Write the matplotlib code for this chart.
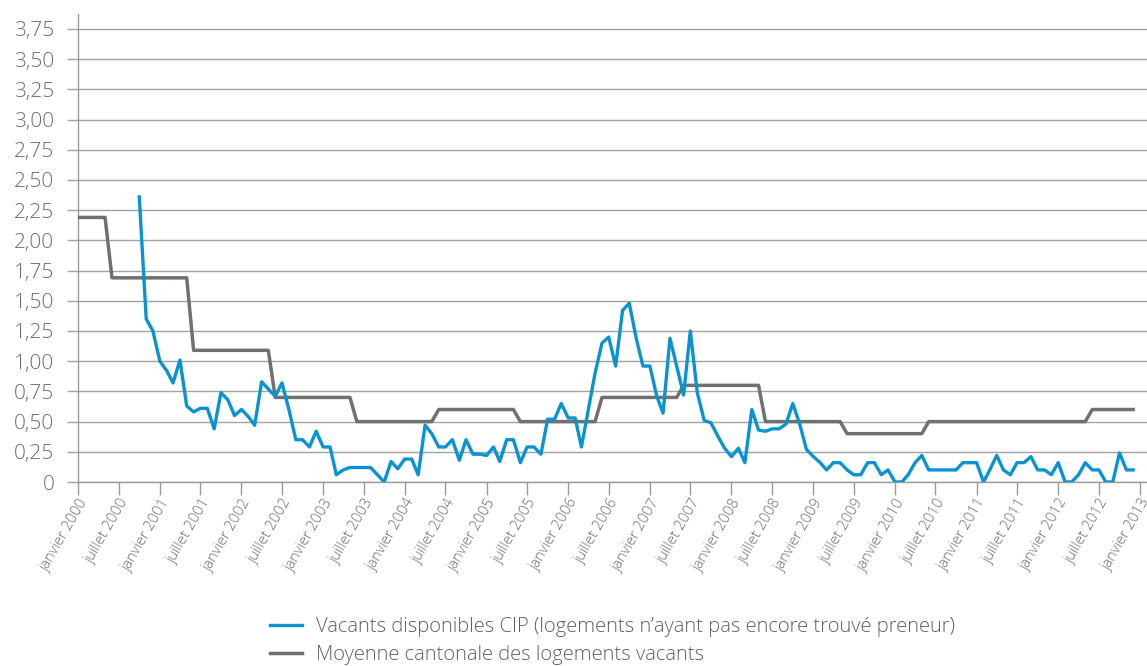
import pandas as pd
import matplotlib.pyplot as plt
import matplotlib.dates as mdates
from matplotlib.ticker import FuncFormatter, MultipleLocator

plt.rcParams['font.family'] = ['Open Sans', 'DejaVu Sans']

# moyenne cantonale (une valeur par mois, janvier 2000 - décembre 2012)
moyenne = [
    2.19, 2.19, 2.19, 2.19, 2.19, 1.69, 1.69, 1.69, 1.69, 1.69, 1.69, 1.69,  # 2000
    1.69, 1.69, 1.69, 1.69, 1.69, 1.09, 1.09, 1.09, 1.09, 1.09, 1.09, 1.09,  # 2001
    1.09, 1.09, 1.09, 1.09, 1.09, 0.70, 0.70, 0.70, 0.70, 0.70, 0.70, 0.70,  # 2002
    0.70, 0.70, 0.70, 0.70, 0.70, 0.50, 0.50, 0.50, 0.50, 0.50, 0.50, 0.50,  # 2003
    0.50, 0.50, 0.50, 0.50, 0.50, 0.60, 0.60, 0.60, 0.60, 0.60, 0.60, 0.60,  # 2004
    0.60, 0.60, 0.60, 0.60, 0.60, 0.50, 0.50, 0.50, 0.50, 0.50, 0.50, 0.50,  # 2005
    0.50, 0.50, 0.50, 0.50, 0.50, 0.70, 0.70, 0.70, 0.70, 0.70, 0.70, 0.70,  # 2006
    0.70, 0.70, 0.70, 0.70, 0.70, 0.80, 0.80, 0.80, 0.80, 0.80, 0.80, 0.80,  # 2007
    0.80, 0.80, 0.80, 0.80, 0.80, 0.50, 0.50, 0.50, 0.50, 0.50, 0.50, 0.50,  # 2008
    0.50, 0.50, 0.50, 0.50, 0.50, 0.40, 0.40, 0.40, 0.40, 0.40, 0.40, 0.40,  # 2009
    0.40, 0.40, 0.40, 0.40, 0.40, 0.50, 0.50, 0.50, 0.50, 0.50, 0.50, 0.50,  # 2010
    0.50, 0.50, 0.50, 0.50, 0.50, 0.50, 0.50, 0.50, 0.50, 0.50, 0.50, 0.50,  # 2011
    0.50, 0.50, 0.50, 0.50, 0.50, 0.60, 0.60, 0.60, 0.60, 0.60, 0.60, 0.60,  # 2012
]

# vacants CIP (octobre 2000 - décembre 2012)
vacants = [
    2.36, 1.35, 1.25,                                                          # 2000
    1.00, 0.92, 0.82, 1.01, 0.63, 0.58, 0.61, 0.61, 0.44, 0.74, 0.68, 0.55,    # 2001
    0.60, 0.54, 0.47, 0.83, 0.77, 0.71, 0.82, 0.60, 0.35, 0.35, 0.29, 0.42,    # 2002
    0.29, 0.29, 0.06, 0.10, 0.12, 0.12, 0.12, 0.12, 0.06, 0.00, 0.17, 0.11,    # 2003
    0.19, 0.19, 0.06, 0.47, 0.40, 0.29, 0.29, 0.35, 0.18, 0.35, 0.23, 0.23,    # 2004
    0.22, 0.29, 0.17, 0.35, 0.35, 0.16, 0.29, 0.29, 0.23, 0.52, 0.52, 0.65,    # 2005
    0.53, 0.53, 0.29, 0.60, 0.90, 1.15, 1.20, 0.96, 1.42, 1.48, 1.19, 0.96,    # 2006
    0.96, 0.71, 0.57, 1.19, 0.96, 0.72, 1.25, 0.74, 0.51, 0.49, 0.38, 0.28,    # 2007
    0.21, 0.28, 0.16, 0.60, 0.43, 0.42, 0.44, 0.44, 0.48, 0.65, 0.48, 0.27,    # 2008
    0.21, 0.16, 0.10, 0.16, 0.16, 0.10, 0.06, 0.06, 0.16, 0.16, 0.06, 0.10,    # 2009
    0.00, 0.00, 0.06, 0.16, 0.22, 0.10, 0.10, 0.10, 0.10, 0.10, 0.16, 0.16,    # 2010
    0.16, 0.00, 0.10, 0.22, 0.10, 0.06, 0.16, 0.16, 0.21, 0.10, 0.10, 0.06,    # 2011
    0.16, 0.00, 0.00, 0.06, 0.16, 0.10, 0.10, 0.00, 0.00, 0.24, 0.10, 0.10,    # 2012
]

mois_fr = {1: 'janvier', 7: 'juillet'}
lbl_vacants = 'Vacants disponibles CIP (logements n\u2019ayant pas encore trouvé preneur)'
lbl_moyenne = 'Moyenne cantonale des logements vacants'

dates_moy = pd.date_range('2000-01-01', periods=len(moyenne), freq='MS')
dates_vac = pd.date_range('2000-10-01', periods=len(vacants), freq='MS')

txt_col = '#6d6e70'
grid_col = '#a3a3a3'

fig = plt.figure(figsize=(11.47, 6.66), dpi=100)
ax = fig.add_axes([78/1147, 1 - 482/666, 1 - 78/1147, (482 - 14)/666])

l2, = ax.plot(dates_moy, moyenne, c='#707070', lw=2.5, label=lbl_moyenne, zorder=3)
l1, = ax.plot(dates_vac, vacants, c='#0a93d1', lw=2.4, label=lbl_vacants, zorder=4)

ax.set_ylim(0, 3.874)
ax.yaxis.set_major_locator(MultipleLocator(0.25))
ax.yaxis.set_major_formatter(FuncFormatter(lambda v, p: '0' if v == 0 else f'{v:.2f}'.replace('.', ',')))
ax.grid(axis='y', color=grid_col, lw=1)
ax.set_axisbelow(True)

ax.set_xlim(pd.Timestamp('2000-01-01'), pd.Timestamp('2013-02-01'))
ax.xaxis.set_major_locator(mdates.MonthLocator(bymonth=[1, 7]))
ax.xaxis.set_major_formatter(FuncFormatter(
    lambda v, p: f'{mois_fr[mdates.num2date(v).month]} {mdates.num2date(v).year}'))

for s in ['top', 'right']:
    ax.spines[s].set_visible(False)
for s in ['left', 'bottom']:
    ax.spines[s].set_color('#9a9a9a')
    ax.spines[s].set_linewidth(1)

ax.tick_params(axis='y', length=8, width=1, color=grid_col, labelsize=15,
               labelcolor=txt_col, pad=9)
ax.tick_params(axis='x', length=9, width=1, color='#9a9a9a', labelsize=10.5,
               labelcolor=txt_col, pad=1)
for t in ax.get_xticklabels():
    t.set_rotation(60)
    t.set_ha('right')
    t.set_va('top')
    t.set_rotation_mode('anchor')
    t.set_fontweight('light')
for t in ax.get_yticklabels():
    t.set_fontweight('light')

leg = fig.legend(handles=[l1, l2], loc='center left', bbox_to_anchor=(270/1147, 1 - 641/666),
                 frameon=False, fontsize=14.5, handlelength=1.6, handletextpad=0.7,
                 labelspacing=0.4, borderpad=0, borderaxespad=0)
for t in leg.get_texts():
    t.set_color('#5f6062')
    t.set_fontweight('light')

fig.savefig('out.png', dpi=100)
